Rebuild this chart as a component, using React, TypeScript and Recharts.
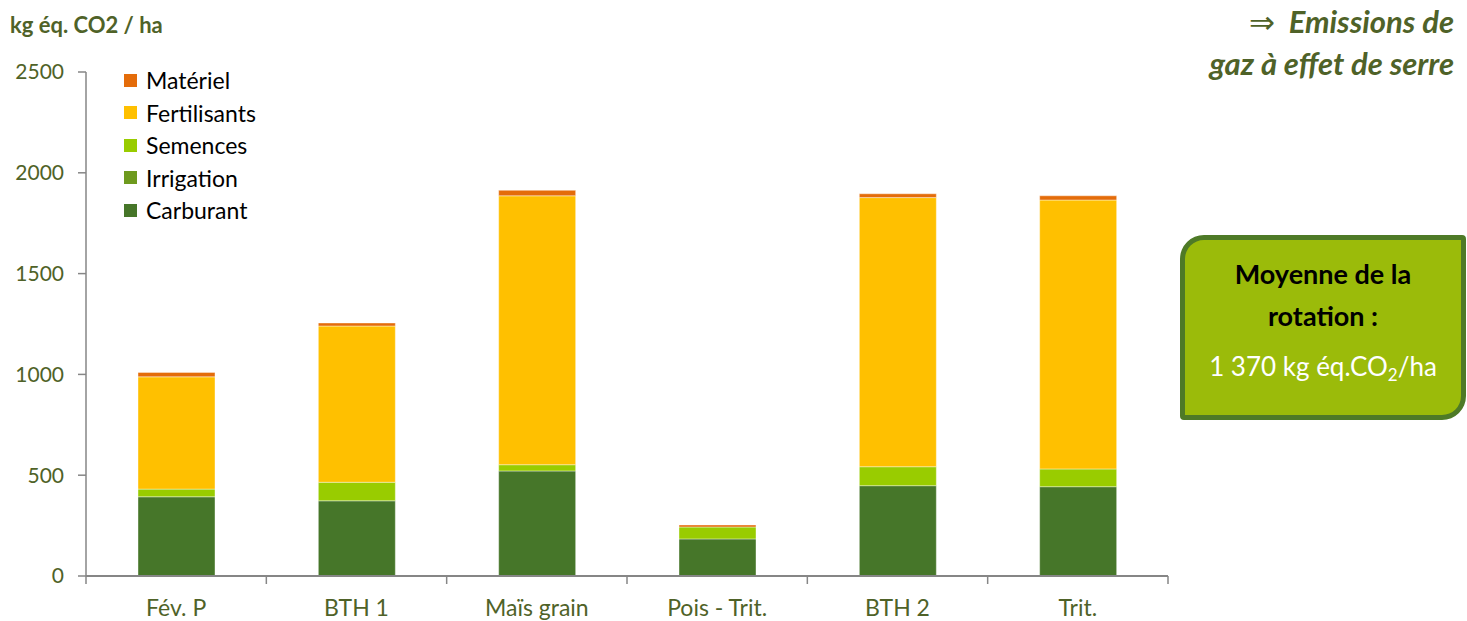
import { BarChart, Bar, XAxis, YAxis } from "recharts";

const cultures = ["Fév. P", "BTH 1", "Maïs grain", "Pois - Trit.", "BTH 2", "Trit."];
const carburant = [393, 373, 521, 184, 448, 443];
const irrigation = [0, 0, 0, 0, 0, 0];
const semences = [38, 92, 31, 59, 94, 88];
const fertilisants = [557, 775, 1334, 0, 1335, 1334];
const materiel = [22, 15, 27, 10, 19, 21];
const yTicks = [0, 500, 1000, 1500, 2000, 2500];

const SERIES = [
  { key: "carburant", name: "Carburant", color: "#467629", values: carburant },
  { key: "irrigation", name: "Irrigation", color: "#6E9A1E", values: irrigation },
  { key: "semences", name: "Semences", color: "#99CC00", values: semences },
  { key: "fertilisants", name: "Fertilisants", color: "#FFC000", values: fertilisants },
  { key: "materiel", name: "Matériel", color: "#E46C0A", values: materiel },
];

const data = cultures.map((name, i) => {
  const row: Record<string, string | number> = { name };
  SERIES.forEach((s) => (row[s.key] = s.values[i]));
  return row;
});

const FONT = "Lato, 'Open Sans', sans-serif";
const TEXT = "#4F6228";
const AXIS = "#868686";

const W = 1467;
const H = 621;
const PLOT_LEFT = 86;
const PLOT_RIGHT = 1168;
const PLOT_TOP = 72;
const PLOT_BOTTOM = 576;
const CAT_W = (PLOT_RIGHT - PLOT_LEFT) / cultures.length;

/* category labels, with Excel-style ticks on the boundaries */
function CatTick(props: any) {
  const { x, payload, index } = props;
  const half = CAT_W / 2;
  return (
    <g>
      <line x1={x - half} x2={x - half} y1={PLOT_BOTTOM} y2={PLOT_BOTTOM + 8} stroke={AXIS} strokeWidth={1.5} />
      {index === cultures.length - 1 && (
        <line x1={x + half} x2={x + half} y1={PLOT_BOTTOM} y2={PLOT_BOTTOM + 8} stroke={AXIS} strokeWidth={1.5} />
      )}
      <text x={x} y={PLOT_BOTTOM + 40} textAnchor="middle" fill={TEXT} fontSize={23} fontFamily={FONT}>
        {payload.value}
      </text>
    </g>
  );
}

export default function App() {
  return (
    <div style={{ position: "absolute", left: 0, top: 0, width: W, height: H, background: "#fff", fontFamily: FONT }}>
      <BarChart
        width={W}
        height={H}
        data={data}
        margin={{ top: PLOT_TOP, right: W - PLOT_RIGHT, bottom: 0, left: PLOT_LEFT - 60 }}
        barSize={77}
      >
        <XAxis
          dataKey="name"
          height={H - PLOT_BOTTOM}
          axisLine={{ stroke: AXIS, strokeWidth: 2 }}
          tickLine={false}
          tick={<CatTick />}
          interval={0}
        />
        <YAxis
          width={60}
          domain={[0, 2500]}
          ticks={yTicks}
          interval={0}
          axisLine={{ stroke: AXIS, strokeWidth: 1.5 }}
          tickLine={{ stroke: AXIS, strokeWidth: 1.5 }}
          tickSize={8}
          tickMargin={14}
          tick={{ fill: TEXT, fontSize: 21, fontFamily: FONT }}
        />
        {SERIES.map((s) => (
          <Bar
            key={s.key}
            dataKey={s.key}
            name={s.name}
            stackId="a"
            fill={s.color}
            stroke="#ffffff"
            strokeOpacity={0.4}
            strokeWidth={1}
            isAnimationActive={false}
          />
        ))}
      </BarChart>

      {/* axis unit */}
      <div style={{ position: "absolute", left: 10, top: 11, fontSize: 22, fontWeight: 700, color: TEXT }}>
        kg éq. CO2 / ha
      </div>

      {/* legend */}
      <div style={{ position: "absolute", left: 124, top: 64 }}>
        {[...SERIES].reverse().map((s) => (
          <div key={s.key} style={{ display: "flex", alignItems: "center", height: 32.5 }}>
            <span style={{ width: 13, height: 13, background: s.color, marginRight: 9, display: "inline-block" }} />
            <span style={{ fontSize: 23, color: "#000" }}>{s.name}</span>
          </div>
        ))}
      </div>

      {/* title */}
      <div
        style={{
          position: "absolute",
          right: 13,
          top: 0,
          textAlign: "right",
          fontSize: 31,
          fontWeight: 700,
          fontStyle: "italic",
          color: TEXT,
          lineHeight: "42px",
        }}
      >
        <div>
          <span style={{ fontStyle: "normal", fontWeight: 400, marginRight: 14 }}>⇒</span>Emissions de
        </div>
        <div>gaz à effet de serre</div>
      </div>

      {/* rotation average box */}
      <div
        style={{
          position: "absolute",
          left: 1180,
          top: 235,
          width: 276,
          height: 175,
          background: "#9BBB0A",
          border: "5px solid #4E7A27",
          borderRadius: "24px 4px 24px 4px",
          textAlign: "center",
        }}
      >
        <div style={{ marginTop: 13, fontSize: 27, fontWeight: 700, color: "#000", lineHeight: "42px" }}>
          Moyenne de la
          <br />
          rotation :
        </div>
        <div style={{ marginTop: 13, fontSize: 26, color: "#fff" }}>
          1 370 kg éq.CO<sub style={{ fontSize: 17, verticalAlign: "-5px" }}>2</sub>/ha
        </div>
      </div>
    </div>
  );
}
